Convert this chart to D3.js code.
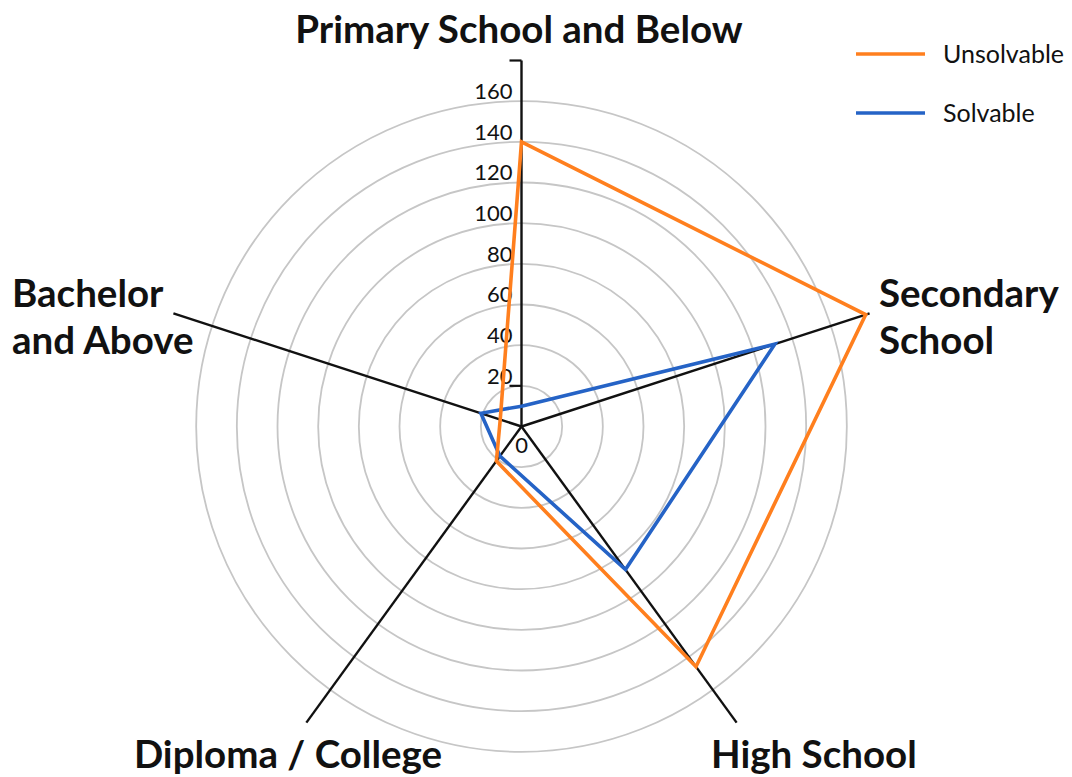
<!DOCTYPE html>
<html>

<head>
  <meta charset="utf-8" />
  <title>Radar</title>
  <style>
    body {
      margin: 0;
      background: #fff;
    }

    svg text {
      font-family: Lato, "Open Sans", sans-serif;
      fill: #111;
    }

    .cat {
      font-weight: 700;
      font-size: 38.5px;
    }

    .tick-label {
      font-size: 22px;
    }

    .legend-label {
      font-size: 25px;
    }
  </style>
  <script src="https://cdnjs.cloudflare.com/ajax/libs/d3/7.8.5/d3.min.js"></script>
</head>

<body>
  <div id="chart"></div>
  <script>
    var categories = ['Primary School and Below', 'Secondary School', 'High School', 'Diploma / College', 'Bachelor and Above'];
    var unsolvable = [140, 178, 146, 21, 11];
    var solvable = [10, 131, 87, 18, 21];
    var ringValues = [20, 40, 60, 80, 100, 120, 140, 160];
    var tickLabels = [0, 20, 40, 60, 80, 100, 120, 140, 160];
    var axisMax = 180;

    var w = 1072,
      h = 777,
      cx = 521.5,
      cy = 426.5;

    var rScale = d3.scaleLinear()
      .domain([0, axisMax])
      .range([0, 366]);

    var angle = d3.scaleLinear()
      .domain([0, categories.length])
      .range([0, 2 * Math.PI]);

    var svg = d3.select('#chart').append('svg')
      .attr('width', w)
      .attr('height', h);

    var g = svg.append('g')
      .attr('transform', 'translate(' + cx + ',' + cy + ')');

    // rings
    g.selectAll('.ring')
      .data(ringValues)
      .enter()
      .append('circle')
      .attr('class', 'ring')
      .attr('r', d => rScale(d))
      .attr('fill', 'none')
      .attr('stroke', '#c6c6c6')
      .attr('stroke-width', 1.8);

    // spokes
    g.selectAll('.spoke')
      .data(categories)
      .enter()
      .append('line')
      .attr('class', 'spoke')
      .attr('x1', 0)
      .attr('y1', 0)
      .attr('x2', (d, i) => rScale(axisMax) * Math.sin(angle(i)))
      .attr('y2', (d, i) => -rScale(axisMax) * Math.cos(angle(i)))
      .attr('stroke', '#111')
      .attr('stroke-width', 2.4);

    // value axis ticks (only the ones visible in the original)
    g.selectAll('.vtick')
      .data([20, axisMax])
      .enter()
      .append('line')
      .attr('class', 'vtick')
      .attr('x1', -12)
      .attr('x2', 0)
      .attr('y1', d => -rScale(d))
      .attr('y2', d => -rScale(d))
      .attr('stroke', '#111')
      .attr('stroke-width', 2.2);

    // value labels
    g.selectAll('.tick-label')
      .data(tickLabels)
      .enter()
      .append('text')
      .attr('class', 'tick-label')
      .attr('x', d => d === 0 ? 0 : -9)
      .attr('y', d => d === 0 ? 19 : -rScale(d) - 10)
      .attr('dy', '0.35em')
      .attr('text-anchor', d => d === 0 ? 'middle' : 'end')
      .text(d => d);

    var radar = d3.lineRadial()
      .angle((d, i) => angle(i))
      .radius(d => rScale(d))
      .curve(d3.curveLinearClosed);

    var series = [
      { name: 'Solvable', values: solvable, color: '#2563c6' },
      { name: 'Unsolvable', values: unsolvable, color: '#ff7f1e' }
    ];

    g.selectAll('.series')
      .data(series)
      .enter()
      .append('path')
      .attr('class', 'series')
      .attr('d', d => radar(d.values))
      .attr('fill', 'none')
      .attr('stroke', d => d.color)
      .attr('stroke-width', 3.6)
      .attr('stroke-linejoin', 'miter');

    // category labels
    var labelPos = [
      { x: 519, y: 43, anchor: 'middle', lines: ['Primary School and Below'] },
      { x: 879, y: 307, anchor: 'start', lines: ['Secondary', 'School'] },
      { x: 711, y: 768, anchor: 'start', lines: ['High School'] },
      { x: 288, y: 768, anchor: 'middle', lines: ['Diploma / College'] },
      { x: 12, y: 307, anchor: 'start', lines: ['Bachelor', 'and Above'] }
    ];

    labelPos.forEach(function (p, i) {
      var t = svg.append('text')
        .attr('class', 'cat')
        .attr('x', p.x)
        .attr('y', p.y)
        .attr('text-anchor', p.anchor);
      t.selectAll('tspan')
        .data(p.lines)
        .enter()
        .append('tspan')
        .attr('x', p.x)
        .attr('dy', (d, j) => j === 0 ? 0 : 47)
        .text(d => d);
    });

    // legend
    var legendItems = [series[1], series[0]];
    var legend = svg.selectAll('.legend')
      .data(legendItems)
      .enter()
      .append('g')
      .attr('class', 'legend')
      .attr('transform', (d, i) => 'translate(856,' + (54 + i * 59) + ')');

    legend.append('line')
      .attr('x1', 0)
      .attr('x2', 69)
      .attr('stroke', d => d.color)
      .attr('stroke-width', 3.6);

    legend.append('text')
      .attr('class', 'legend-label')
      .attr('x', 87)
      .attr('dy', '0.35em')
      .text(d => d.name);
  </script>
</body>

</html>
